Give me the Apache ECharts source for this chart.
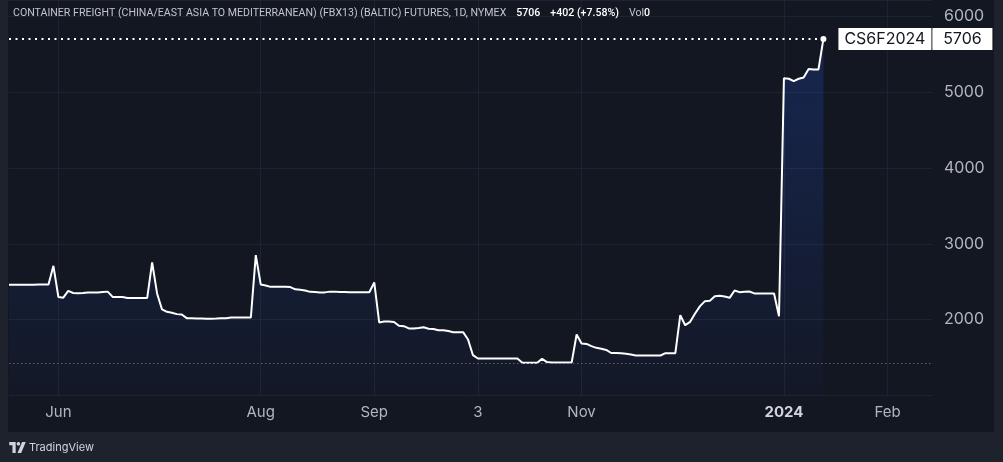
<!DOCTYPE html>
<html>
<head>
<meta charset="utf-8">
<script src="https://cdn.jsdelivr.net/npm/echarts@6/dist/echarts.min.js"></script>
<style>
  html, body { margin:0; padding:0; width:1003px; height:462px; background:#1e222d; overflow:hidden; }
  #panel { position:absolute; left:8px; top:0; width:986px; height:432px; background:#131722; }
  #chart { position:absolute; left:0; top:0; width:1003px; height:462px; }
  #footer { position:absolute; left:9px; top:438px; height:18px; display:flex; align-items:center;
            font-family:Inter, "Liberation Sans", sans-serif; font-size:11px; color:#d1d4dc; }
  #footer svg { margin-right:3px; }
</style>
</head>
<body>
<div id="panel"></div>
<div id="chart"></div>
<div id="footer">
  <svg width="17" height="11" viewBox="0 0 36 24"><path fill="#d1d4dc" d="M0 0h14v24H7V7H0z"/><circle cx="20" cy="4" r="4" fill="#d1d4dc"/><path fill="#d1d4dc" d="M28 0h8L26 24h-8z"/></svg>
  <span>TradingView</span>
</div>
<script>
// ---- data ----
const titleText = 'CONTAINER FREIGHT (CHINA/EAST ASIA TO MEDITERRANEAN) (FBX13) (BALTIC) FUTURES, 1D, NYMEX';
const symbolName = 'CS6F2024';
const startDate = '2023-05-17';
const slotCount = 188;
const holidays = ['2023-05-29','2023-06-19','2023-07-04','2023-09-04','2023-11-23','2023-12-25','2024-01-01','2024-01-15'];
const tickDates = ['2023-06-01','2023-08-01','2023-09-01','2023-10-03','2023-11-01','2024-01-02','2024-02-01'];
const tickNames = ['Jun','Aug','Sep','3','Nov','2024','Feb'];
const values = [
  2460,2460,2460,2462,2462,2462,2465,2465,2465,2711,
  2300,2290,2380,2352,2350,2352,2358,2360,2360,2365,
  2370,2300,2300,2298,2285,2285,2285,2287,2287,2756,
  2346,2135,2103,2090,2073,2068,2020,2018,2015,2015,
  2012,2012,2015,2020,2020,2029,2029,2029,2029,2029,
  2852,2465,2452,2433,2433,2433,2433,2430,2400,2395,
  2385,2367,2365,2360,2360,2370,2370,2365,2365,2362,
  2362,2362,2362,2362,2491,1963,1975,1975,1970,1920,
  1914,1884,1884,1890,1900,1880,1877,1861,1861,1850,
  1835,1835,1835,1738,1531,1487,1487,1487,1487,1487,
  1487,1487,1487,1487,1430,1430,1430,1432,1482,1440,
  1435,1435,1435,1435,1435,1804,1686,1680,1650,1628,
  1615,1600,1560,1560,1558,1550,1540,1527,1527,1527,
  1527,1527,1527,1557,1557,1557,2059,1927,1971,2082,
  2178,2244,2250,2310,2315,2305,2288,2385,2363,2368,
  2372,2346,2346,2346,2346,2346,2046,5186,5180,5150,
  5180,5198,5309,5304,5304,5706
];

// ---- build trading-day categories ----
const categories = [];
(function(){
  const d = new Date(startDate + 'T00:00:00Z');
  while (categories.length < slotCount) {
    const s = d.toISOString().slice(0,10);
    const wd = d.getUTCDay();
    if (wd !== 0 && wd !== 6 && holidays.indexOf(s) < 0) categories.push(s);
    d.setUTCDate(d.getUTCDate() + 1);
  }
})();
const tickMap = {};
tickDates.forEach((t,i)=>{ tickMap[t] = tickNames[i]; });
const isTick = (idx, val) => tickMap.hasOwnProperty(categories[idx]);

const lastIdx = values.length - 1;
const lastVal = values[lastIdx];
const change = lastVal - values[lastIdx-1];
const pct = (change / values[lastIdx-1] * 100).toFixed(2);
const minVal = Math.min.apply(null, values);

const FONT = 'Inter, "Liberation Sans", sans-serif';
const TFONT = 'Roboto, "Liberation Sans", sans-serif';
const chart = echarts.init(document.getElementById('chart'), null, {renderer:'canvas'});
chart.setOption({
  backgroundColor: 'transparent',
  animation: false,
  title: {
    left: 13, top: 4, padding: 0,
    text: '{t|' + titleText + '}  {v|' + lastVal + '}  {v|' + (change>=0?'+':'') + change + ' (' + (change>=0?'+':'') + pct + '%)}  {g|Vol}{v|0}',
    textStyle: {
      fontWeight: 'normal',
      rich: {
        t: { fontFamily: TFONT, fontSize: 10.6, fontWeight: 'normal', color: '#c3c6ce', lineHeight: 16 },
        v: { fontFamily: TFONT, fontSize: 10.6, fontWeight: 500, color: '#ffffff', lineHeight: 16 },
        g: { fontFamily: TFONT, fontSize: 10.6, fontWeight: 'normal', color: '#c3c6ce', lineHeight: 16 }
      }
    }
  },
  grid: { left: 9, right: 71, top: 0, height: 395.4, containLabel: false },
  xAxis: {
    type: 'category',
    data: categories,
    boundaryGap: false,
    axisLine: { show: false },
    axisTick: { show: false },
    axisLabel: {
      interval: isTick,
      margin: 10,
      fontFamily: FONT, fontSize: 15, color: '#b2b5be',
      formatter: v => tickMap[v] === '2024' ? '{b|2024}' : (tickMap[v] || ''),
      rich: { b: { fontFamily: FONT, fontSize: 15, fontWeight: 'bold', color: '#d1d4dc' } }
    },
    splitLine: { show: true, interval: isTick, lineStyle: { color: '#1f2331', width: 1 } }
  },
  yAxis: {
    type: 'value',
    position: 'right',
    min: 1000, max: 6220, interval: 1000,
    axisLine: { show: false },
    axisTick: { show: false },
    axisLabel: {
      margin: 12, fontFamily: FONT, fontSize: 16, color: '#b2b5be',
      showMaxLabel: false,
      formatter: v => (v >= 2000 && v % 1000 === 0) ? String(v) : ''
    },
    splitLine: { show: true, lineStyle: { color: '#1f2331', width: 1 } }
  },
  series: [{
    type: 'line',
    data: values,
    showSymbol: false,
    symbol: 'none',
    lineStyle: { color: '#ffffff', width: 2 },
    areaStyle: {
      origin: 'start',
      color: new echarts.graphic.LinearGradient(0, 0, 0, 1, [
        { offset: 0, color: 'rgba(41,98,255,0.30)' },
        { offset: 1, color: 'rgba(41,98,255,0.03)' }
      ])
    },
    markLine: {
      silent: true,
      symbol: ['none','none'],
      label: { show: false },
      data: [
        { yAxis: minVal, lineStyle: { color: '#5d606b', type: [1.5, 2.5], width: 1 } },
        [
          { coord: [categories[0], lastVal], lineStyle: { color: '#ffffff', type: [2, 4.5], width: 2 } },
          { coord: [categories[lastIdx], lastVal] }
        ]
      ]
    },
    markPoint: {
      silent: true,
      symbol: 'circle',
      symbolSize: 6,
      itemStyle: { color: '#ffffff' },
      data: [{ coord: [categories[lastIdx], lastVal], value: lastVal }],
      label: {
        show: true,
        position: 'right',
        distance: 12,
        formatter: '{a|' + symbolName + '}{s| }{b|' + lastVal + '}',
        rich: {
          a: { fontFamily: FONT, fontSize: 16, color: '#131722', backgroundColor: '#ffffff', width: 79, align: 'center', lineHeight: 18, padding: [3, 7, 3, 7] },
          s: { backgroundColor: '#787b86', width: 1, lineHeight: 18, padding: [3, 0, 3, 0] },
          b: { fontFamily: FONT, fontSize: 16, color: '#131722', backgroundColor: '#ffffff', width: 46, align: 'center', lineHeight: 18, padding: [3, 7, 3, 7] }
        }
      }
    }
  }]
});
</script>
</body>
</html>
